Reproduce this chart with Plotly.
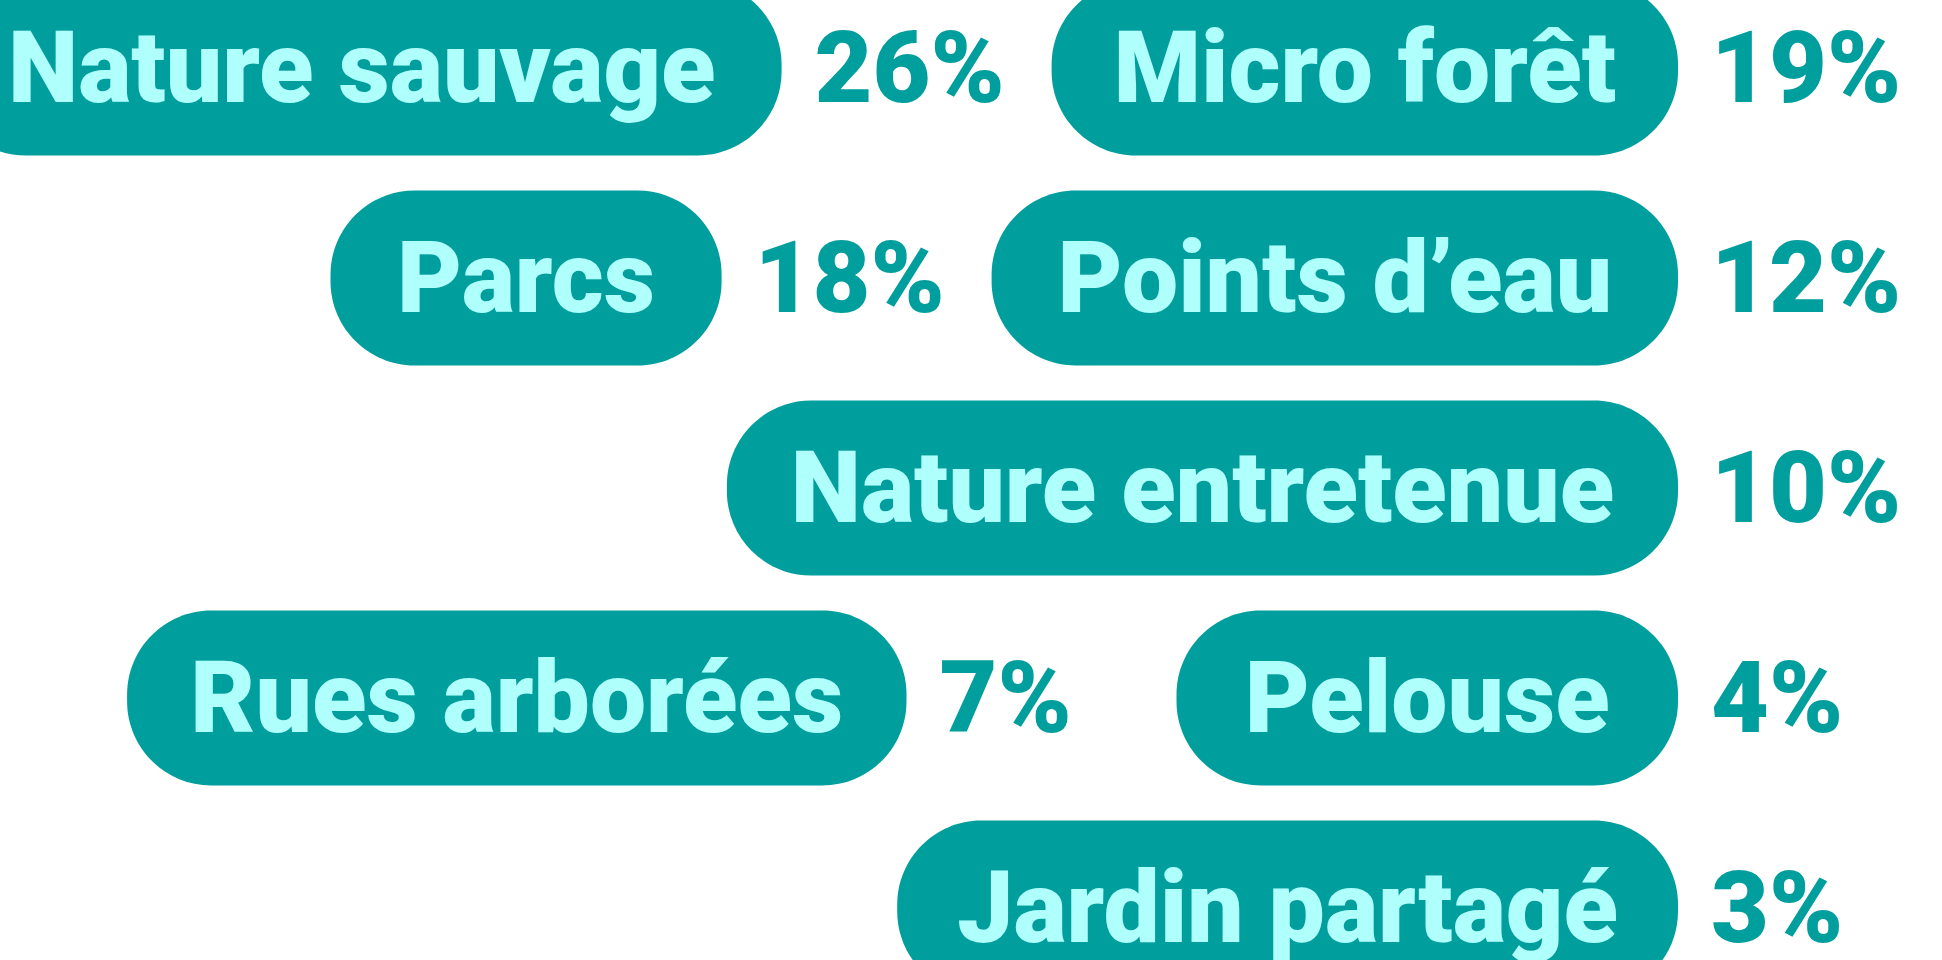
import plotly.graph_objects as go

labels = ["Nature sauvage", "Micro forêt", "Parcs", "Points d’eau",
          "Nature entretenue", "Rues arborées", "Pelouse", "Jardin partagé"]
values = [26, 19, 18, 12, 10, 7, 4, 3]

TEAL = "#009e9c"
MINT = "#afFFFC"
FONT = "Roboto"
FONT_SIZE = 100

# rough advance widths (em) of the label font, so the pills can be sized around their labels
char_w = {" ": .248, "’": .196, "'": .196, "N": .712, "M": .873, "P": .630, "R": .616,
          "J": .552, "a": .544, "b": .560, "c": .523, "d": .561, "e": .550, "é": .529,
          "ê": .529, "f": .347, "g": .560, "i": .243, "l": .280, "n": .560, "o": .569,
          "p": .560, "r": .338, "s": .516, "t": .327, "u": .560, "v": .484}


def text_width(s):
    return sum(char_w.get(c, 0.55) for c in s) * FONT_SIZE


pad = 68          # space between label and pill edge
pct_gap = 33      # pill -> percentage (plotly adds a few px itself)
pct_col = 187     # room kept for the percentage
item_gap = 50
row_right = 1898
row_width = 2100
row_top = 68
row_step = 210
pill_h = 175
radius = 84
text_drop = 9     # nudge so the caps sit centred in the pill

# flow the items into right aligned rows (like a flex-wrap)
rows, cur, cur_w = [], [], 0
for lab, val in zip(labels, values):
    w = text_width(lab) + 2 * pad
    item = w + pct_gap + pct_col
    need = item + (item_gap if cur else 0)
    if cur and cur_w + need > row_width:
        rows.append(cur)
        cur, cur_w, need = [], 0, item
    cur.append((lab, val, w))
    cur_w += need
rows.append(cur)

lab_x, lab_y, lab_t, pct_x, pct_y, pct_t, pills = [], [], [], [], [], [], []
for r, row in enumerate(rows):
    yc = row_top + r * row_step
    x_end = row_right
    for lab, val, w in reversed(row):
        right = x_end - pct_col - pct_gap
        left = right - w
        pills.append((left, right, yc - pill_h / 2, yc + pill_h / 2))
        lab_x.append((left + right) / 2)
        lab_y.append(yc + text_drop)
        lab_t.append(lab)
        pct_x.append(right + pct_gap)
        pct_y.append(yc + text_drop)
        pct_t.append(f"{val}%")
        x_end = left - item_gap


def pill_path(x0, x1, y0, y1, rr):
    k = 0.55 * rr
    return (f"M {x0 + rr},{y0} L {x1 - rr},{y0} "
            f"C {x1 - rr + k},{y0} {x1},{y0 + rr - k} {x1},{y0 + rr} "
            f"L {x1},{y1 - rr} "
            f"C {x1},{y1 - rr + k} {x1 - rr + k},{y1} {x1 - rr},{y1} "
            f"L {x0 + rr},{y1} "
            f"C {x0 + rr - k},{y1} {x0},{y1 - rr + k} {x0},{y1 - rr} "
            f"L {x0},{y0 + rr} "
            f"C {x0},{y0 + rr - k} {x0 + rr - k},{y0} {x0 + rr},{y0} Z")


fig = go.Figure()
for x0, x1, y0, y1 in pills:
    fig.add_shape(type="path", path=pill_path(x0, x1, y0, y1, radius),
                  fillcolor=TEAL, line_width=0, layer="below")

fig.add_trace(go.Scatter(x=lab_x, y=lab_y, text=lab_t, mode="text",
                         textposition="middle center",
                         textfont=dict(family=FONT, size=FONT_SIZE, color=MINT, weight=900)))
fig.add_trace(go.Scatter(x=pct_x, y=pct_y, text=pct_t, mode="text",
                         textposition="middle right",
                         textfont=dict(family=FONT, size=FONT_SIZE, color=TEAL, weight=900)))

fig.update_layout(width=1942, height=960, margin=dict(l=0, r=0, t=0, b=0),
                  showlegend=False, plot_bgcolor="white", paper_bgcolor="white",
                  hovermode=False)
fig.update_xaxes(range=[0, 1942], visible=False)
fig.update_yaxes(range=[960, 0], visible=False)

fig.write_html("out.html", config={"displayModeBar": False},
               post_script="document.body.style.margin='0';")
